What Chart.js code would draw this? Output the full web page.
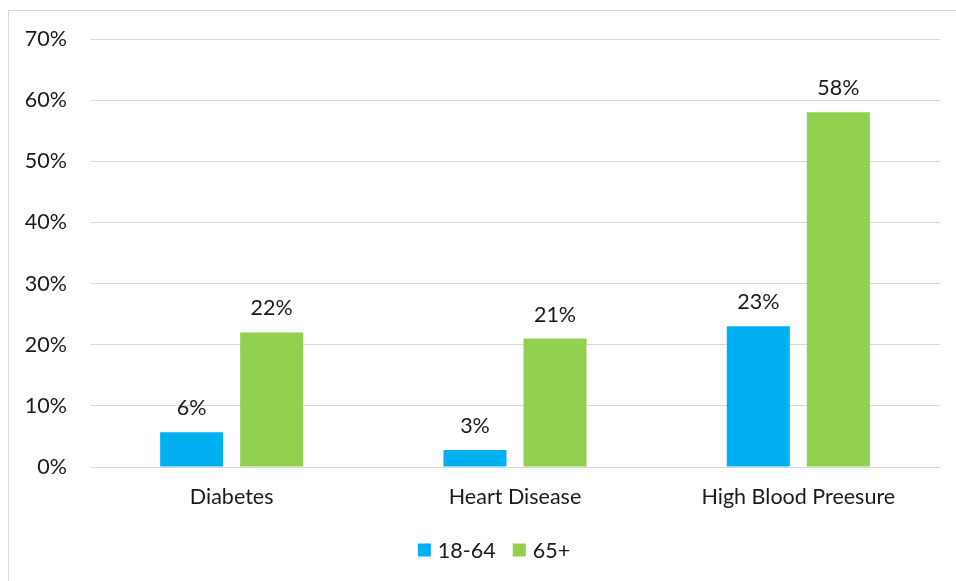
<!DOCTYPE html>
<html><head><meta charset="utf-8">
<script src="https://cdn.jsdelivr.net/npm/chart.js@4"></script>
<style>
html,body{margin:0;padding:0;overflow:hidden;background:#fff;}
#wrap{position:relative;width:956px;height:581px;}
#frame{position:absolute;left:8px;top:10px;width:1000px;height:1000px;border:1px solid #d9d9d9;box-sizing:border-box;pointer-events:none;}
canvas{position:absolute;left:0;top:0;}
</style></head>
<body><div id="wrap"><canvas id="c" width="956" height="581"></canvas><div id="frame"></div></div>
<script>
const categories = ["Diabetes", "Heart Disease", "High Blood Preesure"];
const seriesNames = ["18-64", "65+"];
const values1864 = [5.7, 2.8, 23];
const values65 = [22, 21, 58];
const yTicks = [0, 10, 20, 30, 40, 50, 60, 70];
const colors = ["#00B0F0", "#92D050"];
const FONT = "Lato, 'Open Sans', sans-serif";
const FS = 21.5;
const TEXT = "#1a1a1a";

const labelPlugin = {
  id: 'barLabels',
  afterDatasetsDraw(chart) {
    const ctx = chart.ctx;
    ctx.save();
    ctx.font = FS + "px " + FONT;
    ctx.fillStyle = TEXT;
    ctx.textAlign = 'center';
    ctx.textBaseline = 'middle';
    chart.data.datasets.forEach((ds, i) => {
      chart.getDatasetMeta(i).data.forEach((bar, j) => {
        ctx.fillText(Math.round(ds.data[j]) + '%', bar.x, bar.y - 24);
      });
    });
    ctx.restore();
  }
};

// Legend drawn below the x axis, centered like the original
const legendPlugin = {
  id: 'bottomLegend',
  afterDraw(chart) {
    const ctx = chart.ctx;
    ctx.save();
    ctx.font = FS + "px " + FONT;
    ctx.textBaseline = 'middle';
    ctx.textAlign = 'left';
    const box = 13, gapText = 7, gapItem = 17;
    const items = chart.data.datasets.map(ds => ({label: ds.label, color: ds.backgroundColor, w: ctx.measureText(ds.label).width}));
    let total = 0;
    items.forEach((it, i) => { total += box + gapText + it.w + (i < items.length - 1 ? gapItem : 0); });
    const cx = 494, cy = 550;
    let x = cx - total / 2;
    items.forEach(it => {
      ctx.fillStyle = it.color;
      ctx.fillRect(x, cy - box / 2, box, box);
      x += box + gapText;
      ctx.fillStyle = TEXT;
      ctx.fillText(it.label, x, cy + 1);
      x += it.w + gapItem;
    });
    ctx.restore();
  }
};

new Chart(document.getElementById('c'), {
  type: 'bar',
  data: {
    labels: categories,
    datasets: [
      {label: seriesNames[0], data: values1864, backgroundColor: colors[0]},
      {label: seriesNames[1], data: values65, backgroundColor: colors[1]}
    ]
  },
  options: {
    responsive: false,
    animation: false,
    devicePixelRatio: 1,
    layout: {padding: {top: 39, right: 16, left: 0, bottom: 0}},
    datasets: {bar: {categoryPercentage: 0.565, barPercentage: 0.7875}},
    scales: {
      x: {
        grid: {display: false, drawTicks: false},
        border: {display: false},
        ticks: {font: {family: FONT, size: FS}, color: TEXT, padding: 17},
        afterFit(s) { s.height = 114; }
      },
      y: {
        min: 0, max: 70,
        afterBuildTicks(s) { s.ticks = yTicks.map(v => ({value: v})); },
        grid: {color: '#d9d9d9', lineWidth: 1, drawTicks: false},
        border: {display: false},
        ticks: {font: {family: FONT, size: FS}, color: TEXT, padding: 23, callback: v => v + '%'},
        afterFit(s) { s.width = 90; }
      }
    },
    plugins: {
      legend: {display: false},
      tooltip: {enabled: false}
    }
  },
  plugins: [labelPlugin, legendPlugin]
});
</script></body></html>
